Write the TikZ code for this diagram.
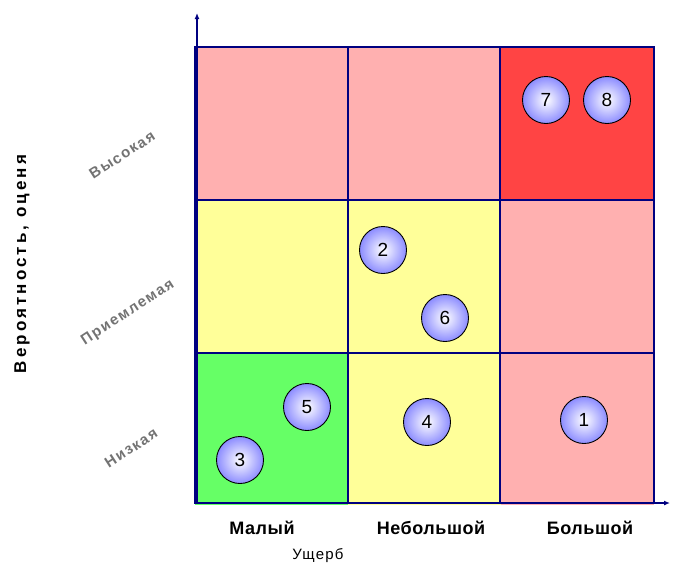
\documentclass[tikz,border=0pt]{standalone}
\usepackage{fontspec}
\setmainfont{Liberation Sans}
\newfontfamily\spacedfont[LetterSpace=8]{Liberation Sans}
\newfontfamily\spacedbold[LetterSpace=3]{Liberation Sans Bold}
\newfontfamily\levelbold[LetterSpace=10]{Liberation Sans Bold}
\newfontfamily\widebold[LetterSpace=18]{Liberation Sans Bold}
\usetikzlibrary{arrows.meta}
\definecolor{gridnavy}{RGB}{0,0,128}
\definecolor{cellpink}{RGB}{255,176,176}
\definecolor{cellred}{RGB}{255,68,68}
\definecolor{cellyellow}{RGB}{255,255,153}
\definecolor{cellgreen}{RGB}{102,255,102}
\definecolor{ballblue}{RGB}{140,140,255}
\definecolor{levelgray}{RGB}{115,115,115}
\tikzset{
  cell/.style={draw=none, minimum width=153pt, minimum height=153pt, inner sep=0pt, outer sep=0pt},
  gridline/.style={draw=gridnavy, line width=2.6pt},
  axisline/.style={draw=gridnavy, line width=1.6pt, -{Latex[length=6pt,width=5pt]}},
  risk/.style={circle, draw=black, line width=0.9pt, minimum size=47pt, inner sep=0pt,
    shading=radial, inner color=white, outer color=ballblue, font=\fontsize{19}{19}\selectfont},
  level/.style={rotate=33, text=levelgray, font=\levelbold\fontsize{15}{15}\selectfont},
  collabel/.style={font=\spacedbold\fontsize{18}{18}\selectfont},
}
\begin{document}
\begin{tikzpicture}[x=1pt,y=-1pt]
\useasboundingbox (0,0) rectangle (673,574);
% cells of the risk matrix
\node[cell, fill=cellpink]   (h1) at (271.5,123.5) {};
\node[cell, fill=cellpink]   (h2) at (424,123.5) {};
\node[cell, fill=cellred]    (h3) at (577.5,123.5) {};
\node[cell, fill=cellyellow] (m1) at (271.5,276.5) {};
\node[cell, fill=cellyellow] (m2) at (424,276.5) {};
\node[cell, fill=cellpink]   (m3) at (577.5,276.5) {};
\node[cell, fill=cellgreen]  (l1) at (271.5,428) {};
\node[cell, fill=cellyellow] (l2) at (424,428) {};
\node[cell, fill=cellpink]   (l3) at (577.5,428) {};
% grid lines
\draw[gridline] (195,47) rectangle (654,503);
\draw[gridline] (348,47) -- (348,503);
\draw[gridline] (500,47) -- (500,503);
\draw[gridline] (195,200) -- (654,200);
\draw[gridline] (195,353) -- (654,353);
% axes
\coordinate (origin) at (197,503);
\coordinate (ytip) at (197,13);
\coordinate (xtip) at (670,503);
\draw[axisline] (origin) -- (ytip);
\draw[axisline] (origin) -- (xtip);
% risks
\node[risk] (r7) at (546,100) {7};
\node[risk] (r8) at (607,100) {8};
\node[risk] (r2) at (383,250) {2};
\node[risk] (r6) at (445,318) {6};
\node[risk] (r5) at (307,407) {5};
\node[risk] (r4) at (427,422) {4};
\node[risk] (r1) at (584,420) {1};
\node[risk] (r3) at (240,460) {3};
% probability levels
\node[level] (lvh) at (122,155) {Высокая};
\node[level] (lvm) at (128,313) {Приемлемая};
\node[level] (lvl) at (131,448) {Низкая};
\node[rotate=90, font=\widebold\fontsize{17}{17}\selectfont] (ytitle) at (22,264) {Вероятность, оценя};
% damage levels
\node[collabel] (d1) at (262,528) {Малый};
\node[collabel] (d2) at (431,528) {Небольшой};
\node[collabel] (d3) at (590,528) {Большой};
\node[font=\spacedfont\fontsize{15}{15}\selectfont] (xtitle) at (318,556) {Ущерб};
\end{tikzpicture}
\end{document}
